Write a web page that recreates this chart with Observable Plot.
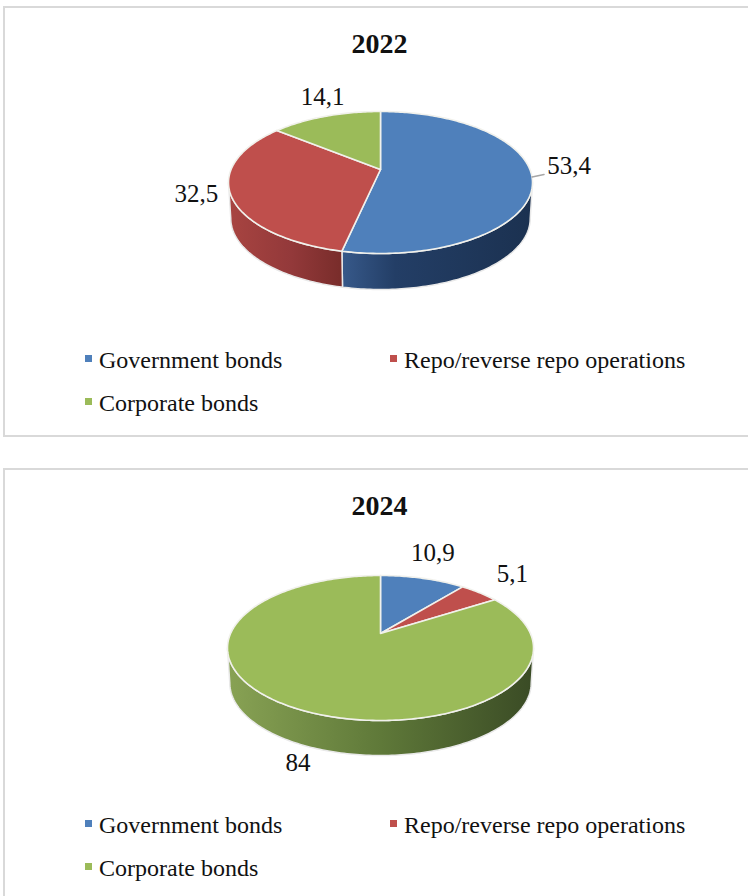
<!DOCTYPE html>
<html>
<head>
<meta charset="utf-8">
<script src="https://cdn.jsdelivr.net/npm/d3@7"></script>
<script src="https://cdn.jsdelivr.net/npm/@observablehq/plot@0.6"></script>
<style>
  html, body { margin: 0; padding: 0; background: #fff; }
  body { position: relative; width: 748px; height: 896px; overflow: hidden; font-family: "Liberation Serif", serif; color: #111; }
  .panel { position: absolute; left: 3px; width: 800px; box-sizing: border-box; border: 2px solid #d9d9d9; }
  .title { position: absolute; left: 0; width: 759px; text-align: center; font-size: 28px; font-weight: bold; line-height: 32px; margin: 0; }
  .chart { position: absolute; left: 0; }
  .legend { position: absolute; left: 85px; display: grid; grid-template-columns: 305px auto; grid-auto-rows: 43px; font-size: 24px; }
  .legend span { display: flex; align-items: center; line-height: 24px; }
  .legend i { width: 7px; height: 7px; margin-right: 7px; margin-top: -2px; flex: none; }
</style>
</head>
<body>
<script>
// Shares of the portfolio, in percent, for each year
const categories = ["Government bonds", "Repo/reverse repo operations", "Corporate bonds"];
const values2022 = [53.4, 32.5, 14.1];
const values2024 = [10.9, 5.1, 84];
const sliceColors = ["#4f80bb", "#bf4f4c", "#9bbb59"];

// Shading of the disc's outer wall, left to right
const wallShades = [
  [[0, "#37598a"], [0.28, "#233e66"], [1, "#1b3150"]],
  [[0, "#a84441"], [0.55, "#93393a"], [1, "#782c2a"]],
  [[0, "#88a254"], [0.5, "#5f7939"], [1, "#3a4b25"]]
];

const width = 748;
const svgHeight = 235;

// Page layout and disc geometry of the two charts
const charts = [
  {
    year: "2022", values: values2022, panelTop: 6, panelHeight: 431, titleTop: 28, svgTop: 76, legendTop: 338,
    cx: 380, pivotY: 93, front: 84, back: 58, halfWidth: 152, depth: 36,
    labelNudge: [[37, -11], [-34, 0], [-3, -19]], leader: [0]
  },
  {
    year: "2024", values: values2024, panelTop: 468, panelHeight: 440, titleTop: 490, svgTop: 538, legendTop: 803,
    cx: 380, pivotY: 95, front: 87, back: 58, halfWidth: 153, depth: 35,
    labelNudge: [[10, -25], [33, -19], [5, 56]], leader: []
  }
];

// Perspective mapping of a disc seen from above: angle is clockwise from twelve o'clock
function makeProjection(c) {
  const ratio = c.front / c.back;
  const k = (ratio - 1) / (ratio + 1);
  const b = c.front * (1 - k);
  const r = c.halfWidth * Math.sqrt(1 - k * k);
  const top = (a) => {
    const u = Math.sin(a), v = -Math.cos(a), w = 1 - k * v;
    return {x: c.cx + r * u / w, y: c.pivotY + b * v / w};
  };
  const bottom = (a) => {
    const p = top(a);
    return {x: c.cx + (p.x - c.cx) * 0.985, y: p.y + c.depth};
  };
  const visibleFrom = Math.acos(-k);
  return {top, bottom, visibleFrom, visibleTo: 2 * Math.PI - visibleFrom};
}

function arcAngles(a0, a1) {
  const n = Math.max(2, Math.ceil((a1 - a0) / (Math.PI / 180)));
  return d3.range(n + 1).map((i) => a0 + (a1 - a0) * i / n);
}

function drawChart(c) {
  const proj = makeProjection(c);
  const slices = d3.pie().sort(null).value((d) => d)(c.values);
  const gradId = (i) => `wall-${c.year}-${i}`;

  // Gradient definitions for the walls
  const defs = () => {
    const el = d3.create("svg:defs");
    wallShades.forEach((stops, i) => {
      const g = el.append("linearGradient").attr("id", gradId(i));
      stops.forEach(([o, col]) => g.append("stop").attr("offset", o).attr("stop-color", col));
    });
    return el.node();
  };

  const marks = [defs];

  // Walls first, only the part facing the viewer
  slices.forEach((s, i) => {
    const a0 = Math.max(s.startAngle, proj.visibleFrom);
    const a1 = Math.min(s.endAngle, proj.visibleTo);
    if (a1 <= a0) return;
    const angles = arcAngles(a0, a1);
    const outline = [...angles.map(proj.top), ...angles.reverse().map(proj.bottom)];
    marks.push(Plot.line(outline, {
      x: "x", y: "y", curve: "linear-closed",
      fill: `url(#${gradId(i)})`, stroke: "#e9e9e9", strokeWidth: 1.5
    }));
  });

  // Top faces
  slices.forEach((s, i) => {
    const outline = [{x: c.cx, y: c.pivotY}, ...arcAngles(s.startAngle, s.endAngle).map(proj.top)];
    marks.push(Plot.line(outline, {
      x: "x", y: "y", curve: "linear-closed",
      fill: sliceColors[i], stroke: "#f1f1ec", strokeWidth: 1.6
    }));
  });

  // Value labels placed from each slice's mid-angle
  const labels = slices.map((s, i) => {
    const p = proj.top((s.startAngle + s.endAngle) / 2);
    const [dx, dy] = c.labelNudge[i];
    return {x0: p.x, y0: p.y, x: p.x + dx, y: p.y + dy, text: String(c.values[i]).replace(".", ",")};
  });

  // Leader lines for labels that sit away from their slice
  c.leader.forEach((i) => {
    const l = labels[i];
    marks.push(Plot.line([{x: l.x0, y: l.y0}, {x: l.x0 + 12, y: l.y0 - 2.5}], {
      x: "x", y: "y", stroke: "#a6a6a6", strokeWidth: 1.5
    }));
  });

  marks.push(Plot.text(labels, {
    x: "x", y: "y", text: "text", fontSize: 25, fill: "#111",
    fontFamily: "Liberation Serif", lineAnchor: "middle"
  }));

  const svg = Plot.plot({
    width,
    height: svgHeight,
    margin: 0,
    x: {type: "linear", domain: [0, width], range: [0, width], axis: null},
    y: {type: "linear", domain: [0, svgHeight], range: [0, svgHeight], axis: null},
    style: {background: "transparent", overflow: "visible"},
    marks
  });
  svg.classList.add("chart");
  svg.style.top = c.svgTop + "px";
  svg.style.position = "absolute";

  d3.select(document.body).append("div").attr("class", "panel")
    .style("top", c.panelTop + "px").style("height", c.panelHeight + "px");
  d3.select(document.body).append("h2").attr("class", "title")
    .style("top", c.titleTop + "px").text(c.year);
  document.body.appendChild(svg);

  const legend = d3.select(document.body).append("div").attr("class", "legend")
    .style("top", c.legendTop + "px");
  categories.forEach((name, i) => {
    const item = legend.append("span");
    item.append("i").style("background", sliceColors[i]);
    item.append("b").style("font-weight", "normal").text(name);
  });
}

charts.forEach(drawChart);
</script>
</body>
</html>
